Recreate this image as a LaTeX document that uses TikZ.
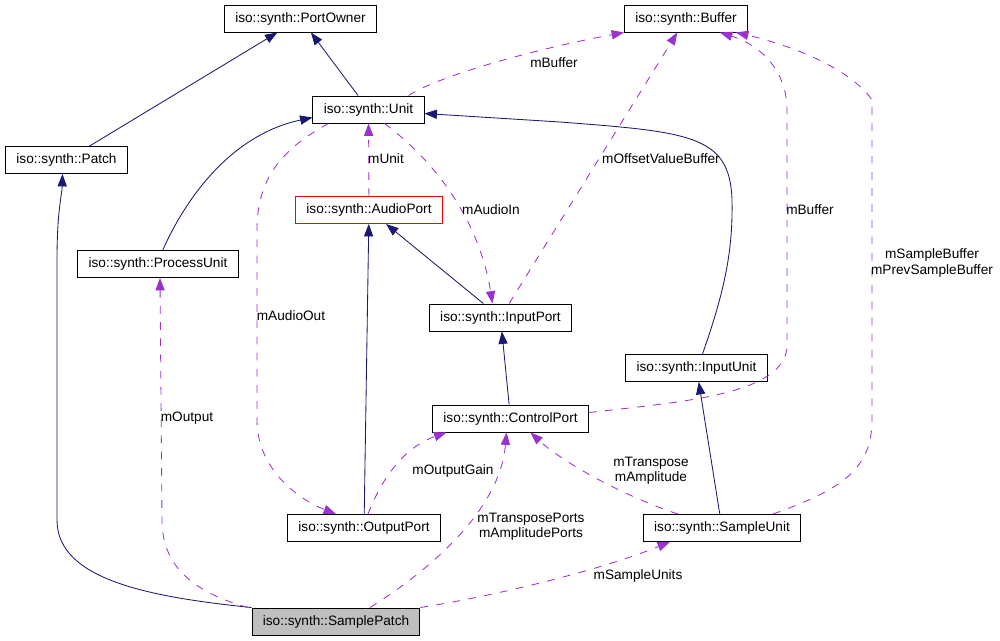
\documentclass[tikz,border=0pt]{standalone}
\usepackage{fontspec}
\setmainfont{Liberation Sans}
\usetikzlibrary{arrows.meta}
\definecolor{inhcol}{RGB}{25,25,112}
\definecolor{relcol}{RGB}{154,50,205}
\begin{document}
\begin{tikzpicture}[x=0.025cm, y=-0.025cm, font=\fontsize{9.7}{10.8}\selectfont,
  cls/.style={draw, line width=0.7pt, minimum height=0.675cm, inner xsep=0.27cm, inner ysep=0pt},
  inh/.style={draw=inhcol, line width=0.6pt, -{Triangle[length=3.1mm,width=2.3mm]}},
  rel/.style={draw=relcol, line width=0.6pt, dash pattern=on 5.5pt off 6pt, -{Triangle[length=3.1mm,width=2.3mm]}},
  lbl/.style={align=center, inner sep=1pt}]
\useasboundingbox (0,0) rectangle (1000,640);
% classes
\foreach \n/\x/\y/\t in {powner/300.5/18.5/PortOwner, buffer/686/18.5/Buffer, unit/368.5/109.5/Unit,
  patch/66.5/160/Patch, punit/158/264/ProcessUnit, iport/500.5/317.5/InputPort, iunit/696.5/368/InputUnit,
  cport/510.5/418.5/ControlPort, oport/364/528/OutputPort, sunit/722/528/SampleUnit}
  {\node[cls] (\n) at (\x,\y) {iso::synth::\t};}
\node[cls, draw=red] (aport) at (369,210) {iso::synth::AudioPort};
\node[cls, fill=black!25] (spatch) at (336,621.5) {iso::synth::SamplePatch};
% inheritance
\draw[inh] (patch) -- (powner);
\draw[inh] (unit) -- (powner);
\draw[inh] ([xshift=0.12cm]punit.north) .. controls (185,200) and (230,135) .. ([yshift=-0.2cm]unit.west);
\draw[inh] ([xshift=0.15cm]iunit.north) .. controls (725,290) and (733,250) .. (732,200)
  .. controls (730,135) and (690,132) .. (560,122) -- ([yshift=-0.1cm]unit.east);
\draw[inh] (oport) -- (aport);
\draw[inh] (iport) -- (aport);
\draw[inh] (cport) -- (iport);
\draw[inh] (sunit) -- (iunit);
\draw[inh] (spatch.north west) .. controls (150,597) and (57,580) .. (57,520) -- (57,260)
  .. controls (57,210) and (62,195) .. ([xshift=-0.1cm]patch.south);
% usage
\draw[rel] ([xshift=1cm]unit.north) .. controls (440,75) and (540,48) .. (buffer.south west);
\draw[rel] (iport) -- (buffer);
\draw[rel] ([yshift=0.15cm]cport.east) .. controls (680,402) and (787,395) .. (787,345) -- (787,110)
  .. controls (787,70) and (760,45) .. ([xshift=-0.7cm]buffer.south east);
\draw[rel] ([xshift=1.275cm]sunit.north) .. controls (840,490) and (872,470) .. (872,420) -- (872,100)
  .. controls (850,68) and (790,45) .. ([xshift=-0.3cm]buffer.south east);
\draw[rel] (aport) -- (unit);
\draw[rel] ([xshift=0.4cm]unit.south) .. controls (440,165) and (480,225) .. ([xshift=-0.2cm]iport.north);
\draw[rel] ([xshift=-1cm]unit.south) .. controls (280,150) and (257,180) .. (257,230) -- (257,420)
  .. controls (257,470) and (300,500) .. ([xshift=-0.7cm]oport.north);
\draw[rel] ([xshift=0.1cm]oport.north) .. controls (385,470) and (410,445) .. ([xshift=-1.6cm]cport.south);
\draw[rel] ([xshift=-1.1cm]sunit.north) .. controls (620,495) and (560,460) .. ([xshift=0.5cm]cport.south);
\draw[rel] ([xshift=0.85cm]spatch.north) .. controls (430,570) and (500,510) .. ([xshift=-0.1cm]cport.south);
\draw[rel] ([xshift=-2.2cm]spatch.north) .. controls (185,590) and (162,560) .. (162,520) -- ([xshift=0.05cm]punit.south);
\draw[rel] (spatch.north east) .. controls (500,595) and (600,570) .. ([xshift=-1.3cm]sunit.south);
% labels
\foreach \n/\x/\y/\t in {lbuf/554/63/mBuffer, loff/661/159/mOffsetValueBuffer, lbufb/810/210/mBuffer,
  lsbuf/932/263/{mSampleBuffer\\mPrevSampleBuffer}, lunit/386/159/mUnit, lain/491/210/mAudioIn,
  laout/291/316/mAudioOut, logain/453/471/mOutputGain, ltr/651/471/{mTranspose\\mAmplitude},
  ltrp/531/527/{mTransposePorts\\mAmplitudePorts}, lout/187/418/mOutput, lsu/638/576/mSampleUnits}
  {\node[lbl] (\n) at (\x,\y) {\t};}
\end{tikzpicture}
\end{document}
